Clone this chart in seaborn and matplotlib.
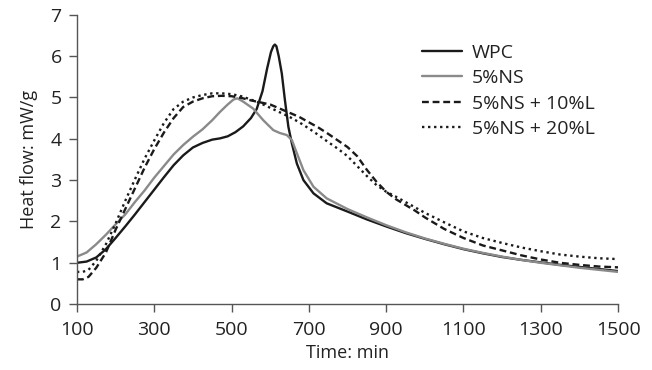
import numpy as np
import pandas as pd
import matplotlib
matplotlib.use("Agg")
import matplotlib.pyplot as plt
import seaborn as sns

# ==========================================
# Heat flow curves
# ==========================================
t_wpc = [100, 125, 150, 175, 200, 225, 250, 275, 300, 325, 350, 375, 400, 425, 450, 470,
         490, 510, 530, 550, 565, 580, 592, 602, 608, 612, 616, 622, 630, 638, 647, 656, 669, 686,
         712, 746, 800, 850, 900, 950, 1000, 1050, 1100, 1150, 1200, 1250, 1300, 1350,
         1400, 1450, 1500]
wpc = [1.00, 1.03, 1.13, 1.33, 1.60, 1.88, 2.17, 2.47, 2.77, 3.07, 3.36, 3.60, 3.79, 3.90, 3.98, 4.01,
       4.06, 4.16, 4.30, 4.50, 4.72, 5.15, 5.70, 6.10, 6.24, 6.28, 6.24, 6.00, 5.58, 4.94, 4.29, 3.89, 3.40, 3.00,
       2.68, 2.44, 2.24, 2.05, 1.88, 1.72, 1.58, 1.45, 1.33, 1.23, 1.14, 1.07, 1.01, 0.95,
       0.90, 0.85, 0.80]

t_ns = [100, 125, 150, 175, 200, 225, 250, 275, 300, 325, 350, 375, 400, 425, 450, 470,
        490, 505, 515, 530, 556, 582, 608, 625, 643, 656, 669, 686, 712, 746, 800, 850,
        900, 950, 1000, 1050, 1100, 1150, 1200, 1250, 1300, 1350, 1400, 1450, 1500]
ns = [1.15, 1.25, 1.45, 1.68, 1.93, 2.17, 2.47, 2.75, 3.06, 3.34, 3.62, 3.85, 4.05, 4.23, 4.45, 4.65,
      4.83, 4.95, 4.98, 4.90, 4.73, 4.45, 4.21, 4.14, 4.09, 3.97, 3.65, 3.24, 2.84, 2.56, 2.30, 2.10,
      1.91, 1.74, 1.59, 1.46, 1.34, 1.24, 1.15, 1.07, 1.00, 0.94, 0.88, 0.83, 0.78]

t_l = [100, 115, 130, 150, 175, 200, 225, 250, 275, 300, 325, 350, 375, 400, 425, 450, 475,
       500, 525, 550, 575, 600, 625, 650, 675, 700, 725, 750, 775, 800, 825, 850, 875, 900,
       925, 950, 975, 1000, 1050, 1100, 1150, 1200, 1250, 1300, 1350, 1400, 1450, 1500]
ns_10l = [0.60, 0.60, 0.66, 0.88, 1.25, 1.80, 2.30, 2.80, 3.30, 3.75, 4.15, 4.50, 4.77, 4.90, 4.98, 5.03, 5.04,
          5.03, 4.99, 4.93, 4.88, 4.83, 4.73, 4.63, 4.53, 4.40, 4.27, 4.12, 3.96, 3.80, 3.58, 3.25, 2.96, 2.72,
          2.54, 2.40, 2.26, 2.10, 1.82, 1.60, 1.42, 1.30, 1.18, 1.08, 1.00, 0.95, 0.91, 0.89]
ns_20l = [0.78, 0.78, 0.83, 1.05, 1.45, 1.95, 2.50, 3.02, 3.52, 3.96, 4.38, 4.72, 4.90, 5.00, 5.06, 5.10, 5.10,
          5.08, 5.03, 4.95, 4.86, 4.75, 4.64, 4.53, 4.40, 4.25, 4.09, 3.92, 3.76, 3.58, 3.34, 3.10, 2.88, 2.72,
          2.60, 2.47, 2.34, 2.21, 1.98, 1.76, 1.60, 1.48, 1.37, 1.28, 1.20, 1.15, 1.11, 1.09]

x_ticks = [100, 300, 500, 700, 900, 1100, 1300, 1500]
y_ticks = [0, 1, 2, 3, 4, 5, 6, 7]

sns.set_style("white")
plt.rcParams['font.family'] = ['Open Sans', 'DejaVu Sans']
plt.rcParams.update({'text.color': '#222222', 'axes.labelcolor': '#222222'})

fig = plt.figure(figsize=(6.52, 3.70), dpi=100)
ax = fig.add_axes([0.118, 0.178, 0.830, 0.782])

series = [
    (t_wpc, wpc, 'WPC', '#1a1a1a', None),
    (t_ns, ns, '5%NS', '#8a8a8a', None),
    (t_l, ns_10l, '5%NS + 10%L', '#1a1a1a', (2.9, 1.6)),
    (t_l, ns_20l, '5%NS + 20%L', '#1a1a1a', (1.0, 1.55)),
]
for t, v, name, col, dash in series:
    df = pd.DataFrame({'t': t, 'v': v})
    sns.lineplot(data=df, x='t', y='v', ax=ax, color=col, lw=1.7, label=name)
    if dash is not None:
        ax.lines[-1].set_dashes(dash)

ax.set_xlim(100, 1500)
ax.set_ylim(0, 7)
ax.set_xticks(x_ticks)
ax.set_yticks(y_ticks)
ax.tick_params(axis='both', labelsize=14, colors='#555555', labelcolor='#222222',
               direction='out', length=6, width=1, bottom=True, left=True)
ax.tick_params(axis='x', pad=6)
ax.tick_params(axis='y', pad=5)
for s in ['top', 'right']:
    ax.spines[s].set_visible(False)
for s in ['left', 'bottom']:
    ax.spines[s].set_color('#555555')
    ax.spines[s].set_linewidth(1)

ax.set_xlabel("Time: min", fontsize=13, labelpad=4)
ax.set_ylabel("Heat flow: mW/g", fontsize=13, labelpad=9)

ax.legend(loc='upper left', bbox_to_anchor=(0.637, 0.90), frameon=False, fontsize=14,
          handlelength=2.1, handletextpad=0.5, labelspacing=0.38, borderpad=0, borderaxespad=0)

plt.savefig("out.png", dpi=100)
plt.close()
